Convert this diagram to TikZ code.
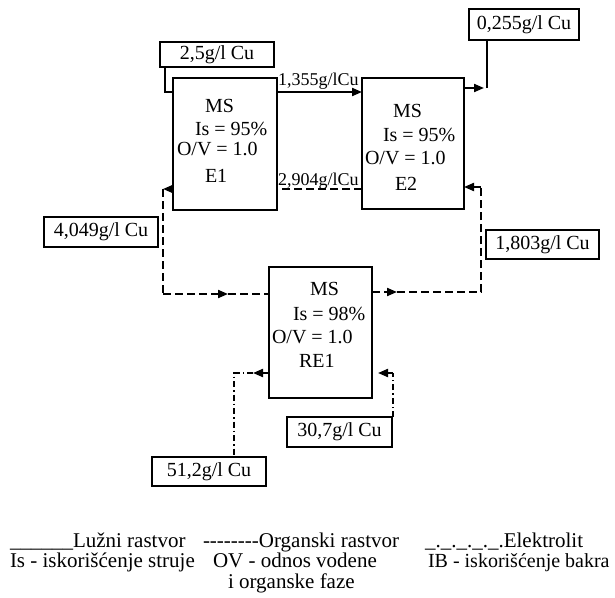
\documentclass[tikz,border=0pt]{standalone}
\usepackage{fontspec}
\setmainfont{Liberation Serif}
\usetikzlibrary{arrows.meta}
\newcommand\hy{\mbox{-}}
\tikzset{
  mainbox/.style={draw, line width=2.4pt, inner sep=0pt},
  lblbox/.style={draw, line width=1.2pt, inner sep=0pt},
  txt/.style={anchor=base west, inner sep=0pt},
  legtxt/.style={anchor=base west, inner sep=0pt, font=\fontsize{21}{21}\selectfont},
  tip/.style={-{Triangle[length=10pt,width=8pt]}},
  solidline/.style={line width=2pt},
  thinline/.style={line width=1.2pt},
  dashline/.style={line width=2pt, dash pattern=on 8pt off 4pt},
  dotline/.style={line width=2pt, dash pattern=on 6pt off 3pt on 1.5pt off 3pt}
}
\begin{document}
\begin{tikzpicture}[x=1pt,y=-1pt, every node/.style={inner sep=0pt, outer sep=0pt}, font=\fontsize{20}{21}\selectfont]
\useasboundingbox (0,0) rectangle (615,597);
% main boxes
\node[mainbox, minimum width=104pt, minimum height=132pt] (E1) at (225,144) {};
\node[mainbox, minimum width=102pt, minimum height=131pt] (E2) at (413,143.5) {};
\node[mainbox, minimum width=103pt, minimum height=131pt] (RE1) at (320.5,332.5) {};
% texts in main boxes
\node[txt] (e1a) at (205,112) {MS};
\node[txt] (e1b) at (195,135) {Is = 95\%};
\node[txt] (e1c) at (177,155) {O/V = 1.0};
\node[txt] (e1d) at (205,182) {E1};
\node[txt] (e2a) at (393,117) {MS};
\node[txt] (e2b) at (383,141) {Is = 95\%};
\node[txt] (e2c) at (365,164) {O/V = 1.0};
\node[txt] (e2d) at (395,190) {E2};
\node[txt] (r1a) at (310,295) {MS};
\node[txt] (r1b) at (293,320) {Is = 98\%};
\node[txt] (r1c) at (272,343) {O/V = 1.0};
\node[txt] (r1d) at (299,367) {RE1};
% label boxes
\node[lblbox, minimum width=114pt, minimum height=25pt] (L25) at (217,54.5) {2,5g/l Cu};
\node[lblbox, minimum width=110pt, minimum height=31pt] (L0255) at (524,24.5) {0,255g/l Cu};
\node[lblbox, minimum width=114pt, minimum height=30pt] (L4049) at (101,232) {4,049g/l Cu};
\node[lblbox, minimum width=113pt, minimum height=29pt] (L1803) at (542.5,244.5) {1,803g/l Cu};
\node[lblbox, minimum width=105pt, minimum height=30pt] (L307) at (339.5,432) {30,7g/l Cu};
\node[lblbox, minimum width=114pt, minimum height=29pt] (L512) at (209,471.5) {51,2g/l Cu};
% flow labels
\node[txt, font=\fontsize{18}{18}\selectfont] (f1) at (278,85) {1,355g/lCu};
\node[txt, font=\fontsize{18}{18}\selectfont] (f2) at (278,185) {2,904g/lCu};
% coordinates
\coordinate (a1) at (165,92);
\coordinate (y92) at (0,92);
\coordinate (y189) at (0,189);
\coordinate (c1) at (163,189);
\coordinate (c2) at (163,294);
\coordinate (m1) at (228,294);
\coordinate (m2) at (397,292);
\coordinate (c3) at (481,292);
\coordinate (c4) at (481,187);
\coordinate (m3) at (253,373);
\coordinate (c5) at (234,373);
\coordinate (c6) at (393,373);
\coordinate (c7) at (487,88);
\coordinate (m4) at (484,88);
% connectors
\draw[thinline] (L25.south -| a1) -- (a1) -- (a1 -| E1.west);
\draw[solidline, tip] (E1.east |- y92) -- (E2.west |- y92);
\draw[dashline] (E2.west |- y189) -- (E1.east |- y189);
\draw[dashline, tip] (E1.west |- c1) -- (c1);
\draw[dashline] (c1) -- (c2);
\draw[dashline, tip] (c2) -- (m1);
\draw[dashline] (m1) -- (RE1.west |- m1);
\draw[dashline, tip] (RE1.east |- m2) -- (m2);
\draw[dashline] (m2) -- (c3) -- (c4);
\draw[dashline, tip] (c4) -- (E2.east |- c4);
\draw[dotline, tip] (RE1.west |- m3) -- (m3);
\draw[dotline] (m3) -- (c5) -- (c5 |- L512.north);
\draw[dotline] (c6 |- L307.north) -- (c6);
\draw[dotline, tip, shorten >=6pt] (c6) -- (RE1.east |- c6);
\draw[solidline, tip] (E2.east |- m4) -- (m4);
\draw[line width=2.6pt] (c7) -- (c7 |- L0255.south);
% legend
\node[legtxt] (lg1) at (10,547) {\_\_\_\_\_\_Lužni rastvor};
\node[legtxt] (lg2) at (203,547) {\hy\hy\hy\hy\hy\hy\hy\hy Organski rastvor};
\node[legtxt] (lg3) at (425,547) {\_.\_.\_.\_.\_.Elektrolit};
\node[legtxt] (lg4) at (10,567) {Is - iskorišćenje struje};
\node[legtxt] (lg5) at (213,567) {OV - odnos vodene};
\node[legtxt, font=\fontsize{20}{21}\selectfont] (lg6) at (428,567) {IB - iskorišćenje bakra};
\node[legtxt] (lg7) at (228,588) {i organske faze};
\end{tikzpicture}
\end{document}
